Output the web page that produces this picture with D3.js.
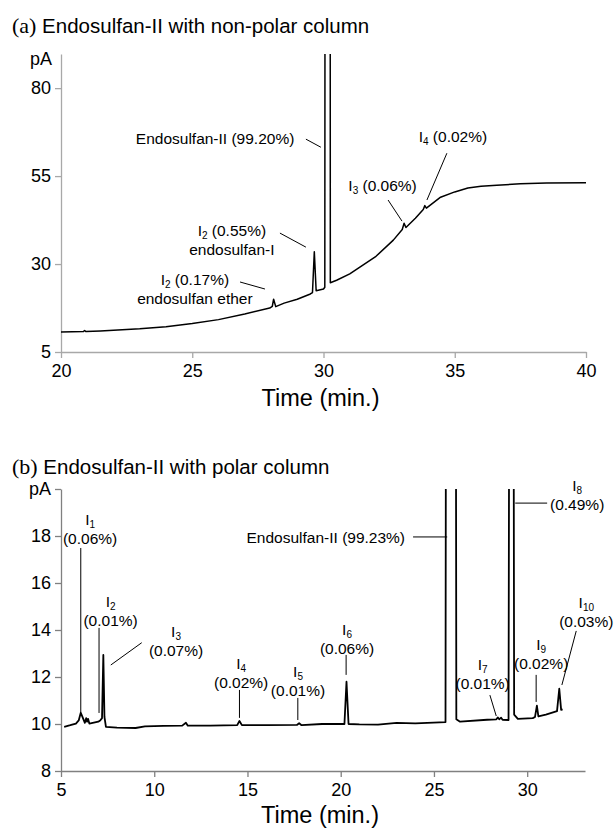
<!DOCTYPE html>
<html>
<head>
<meta charset="utf-8">
<script src="https://cdn.jsdelivr.net/npm/d3@7"></script>
<style>
body { margin: 0; background: #fff; }
text { font-family: "Liberation Sans", Arial, sans-serif; fill: #000; }
.trace { fill: none; stroke: #000; stroke-linejoin: round; }
.lead { stroke: #000; stroke-width: 1; }
</style>
</head>
<body>
<div id="chart"></div>
<script>
// ---- panel (a): non-polar column
var timeA = [20.0, 20.85, 20.9, 20.95, 21.5, 22, 23, 24, 25, 26, 27, 27.95, 28.05, 28.1, 28.18, 28.5, 29, 29.5, 29.58, 29.65, 29.72, 30.0, 30.05, 30.08, 30.24, 30.26, 30.5, 31, 31.4, 32, 32.66, 33.0, 33.07, 33.14, 33.5, 33.8, 33.86, 33.92, 34.46, 35, 35.5, 36, 36.6, 37.5, 38.5, 40];
var pA_A  = [10.7, 10.8, 11.1, 10.8, 11.0, 11.2, 11.6, 12.2, 13.1, 14.2, 15.8, 17.5, 18.0, 20.0, 17.9, 18.9, 20.0, 21.5, 21.9, 33.5, 22.4, 22.9, 23.4, 400, 400, 24.7, 25.4, 27.2, 29.2, 32.2, 36.8, 39.8, 41.6, 40.4, 43.0, 45.5, 46.6, 45.9, 49.0, 50.5, 51.6, 52.1, 52.4, 52.8, 53.0, 53.1];
var yTicksA = [5, 30, 55, 80];
var xTicksA = [20, 25, 30, 35, 40];

// ---- panel (b): polar column
var timeB = [5.17, 5.5, 5.8, 5.95, 6.06, 6.15, 6.28, 6.35, 6.4, 6.45, 6.52, 6.7, 7.0, 7.1, 7.2, 7.27, 7.33, 7.41, 8, 9, 9.5, 10.5, 11.5, 11.7, 11.8, 13, 14.45, 14.57, 14.7, 16, 17.65, 17.77, 17.9, 19, 20.2, 20.31, 20.42, 21, 22, 23, 24, 25.62, 25.7, 26.12, 26.2, 26.4, 27.85, 28.35, 28.42, 28.5, 28.6, 28.68, 29.0, 29.12, 29.2, 29.3, 29.5, 30.3, 30.42, 30.52, 30.6, 31.0, 31.6, 31.72, 31.82, 31.9];
var pA_B  = [9.88, 9.95, 10.02, 10.15, 10.48, 10.3, 10.05, 10.25, 10.1, 10.22, 10.02, 10.05, 10.1, 10.15, 10.25, 12.94, 10.3, 9.88, 9.85, 9.83, 9.9, 9.92, 9.93, 10.05, 9.93, 9.93, 9.95, 10.13, 9.95, 9.95, 9.96, 10.03, 9.95, 10.0, 10.0, 11.8, 10.0, 9.98, 9.97, 10.05, 10.03, 10.08, 60, 60, 10.2, 10.1, 10.18, 10.2, 10.28, 10.2, 10.27, 10.18, 10.17, 60, 60, 10.4, 10.22, 10.25, 10.3, 10.78, 10.32, 10.4, 10.55, 11.5, 10.6, 10.62];
var yTicksB = [8, 10, 12, 14, 16, 18, 20];
var xTicksB = [5, 10, 15, 20, 25, 30];

// annotations: [sub, text, second line, labelTime, labelValue, leader t1, v1, t2, v2]
var notesA = [
  [null, "Endosulfan-II (99.20%)", null, 25.87, 64.2, 29.33, 65.5, 29.90, 63.2],
  ["2", " (0.55%)", "endosulfan-I", 26.51, 38.1, 28.34, 38.8, 29.33, 34.8],
  ["2", " (0.17%)", "endosulfan ether", 25.10, 24.1, 26.82, 24.9, 27.77, 22.9],
  ["3", " (0.06%)", null, 32.25, 50.9, 32.46, 48.2, 32.99, 42.2],
  ["4", " (0.02%)", null, 34.93, 64.8, 34.70, 61.5, 33.94, 48.2]
];
// [sub, text, labelTime, labelValue, leader t1, v1, t2, v2]
var notesB = [
  ["1", "(0.06%)", 6.56, 17.64, 6.06, 17.49, 6.06, 10.51],
  ["2", "(0.01%)", 7.66, 14.19, 7.04, 14.09, 7.04, 10.47],
  ["3", "(0.07%)", 11.17, 12.91, 9.33, 13.46, 7.67, 12.51],
  ["4", "(0.02%)", 14.66, 11.55, 14.57, 11.45, 14.57, 10.26],
  ["5", "(0.01%)", 17.71, 11.21, 17.70, 11.11, 17.70, 10.17],
  ["6", "(0.06%)", 20.34, 13.0, 20.29, 12.94, 20.29, 12.09],
  ["7", "(0.01%)", 27.61, 11.51, 28.0, 11.23, 28.34, 10.34],
  ["8", "(0.49%)", 32.68, 19.09, 29.36, 19.40, 31.07, 19.40],
  ["9", "(0.02%)", 30.75, 12.36, 30.48, 12.09, 30.48, 10.94],
  ["10", "(0.03%)", 33.17, 14.11, 32.63, 13.96, 31.86, 11.66]
];
var mainB = ["Endosulfan-II (99.23%)", 23.45, 17.72, 23.88, 17.96, 25.71, 17.96];

var W = 615, H = 829;
var svg = d3.select("#chart").append("svg").attr("width", W).attr("height", H);

function title(y, letter, rest) {
  var t = svg.append("text").attr("x", 12).attr("y", y).style("font-size", "20.5px");
  t.append("tspan").style("font-family", "'Liberation Serif', 'Times New Roman', serif").style("font-size", "22px").text(letter);
  t.append("tspan").text(rest);
}

function panel(id, xd, yd, xr, yr, axisColor, times, vals, lw, yTicks, xTicks, yFmt, labelY) {
  var x = d3.scaleLinear().domain(xd).range(xr);
  var y = d3.scaleLinear().domain(yd).range(yr);
  svg.append("clipPath").attr("id", id).append("rect")
    .attr("x", xr[0]).attr("y", yr[1]).attr("width", xr[1] - xr[0] + 20).attr("height", yr[0] - yr[1]);

  var ya = svg.append("g").attr("transform", "translate(" + xr[0] + ",0)")
    .call(d3.axisLeft(y).tickValues(yTicks).tickSize(6).tickSizeOuter(0).tickPadding(4).tickFormat(yFmt));
  var xa = svg.append("g").attr("transform", "translate(0," + yr[0] + ")")
    .call(d3.axisBottom(x).tickValues(xTicks).tickSize(6).tickSizeOuter(0).tickPadding(6));
  [ya, xa].forEach(function(a) {
    a.select(".domain").attr("stroke", axisColor).attr("stroke-width", 1.3);
    a.selectAll(".tick line").attr("stroke", axisColor).attr("stroke-width", 1.3);
    a.selectAll(".tick text").style("font-family", "'Liberation Sans', Arial, sans-serif").style("font-size", "18px").attr("fill", "#000");
  });

  var line = d3.line().x(function(d) { return x(d[0]); }).y(function(d) { return y(d[1]); });
  svg.append("path").attr("class", "trace").attr("clip-path", "url(#" + id + ")")
    .attr("stroke-width", lw).attr("d", line(d3.zip(times, vals)));

  svg.append("text").attr("x", (xr[0] + xr[1]) / 2 - 3).attr("y", labelY)
    .attr("text-anchor", "middle").style("font-size", "23.5px").text("Time (min.)");
  return { x: x, y: y };
}

function lead(s, t1, v1, t2, v2) {
  svg.append("line").attr("class", "lead")
    .attr("x1", s.x(t1)).attr("y1", s.y(v1)).attr("x2", s.x(t2)).attr("y2", s.y(v2));
}

function iLabel(t, sub) {
  t.append("tspan").text("I");
  t.append("tspan").attr("dy", 3).style("font-size", "10px").text(sub);
}

// ---- (a)
title(33, "(a)", " Endosulfan-II with non-polar column");
var sA = panel("clipA", [20, 40], [5, 89.7], [61, 586], [352, 54], "#a8a8a8", timeA, pA_A, 1.5, yTicksA, xTicksA, d3.format("d"), 406);
svg.append("text").attr("x", 52).attr("y", 65).attr("text-anchor", "end").style("font-size", "18px").text("pA");

notesA.forEach(function(n) {
  var t = svg.append("text").attr("x", sA.x(n[3])).attr("y", sA.y(n[4]))
    .attr("text-anchor", "middle").style("font-size", "15.5px");
  if (n[0]) {
    iLabel(t, n[0]);
    t.append("tspan").attr("dy", -3).text(n[1]);
  } else {
    t.text(n[1]);
  }
  if (n[2]) {
    svg.append("text").attr("x", sA.x(n[3])).attr("y", sA.y(n[4]) + 19)
      .attr("text-anchor", "middle").style("font-size", "15.5px").text(n[2]);
  }
  lead(sA, n[5], n[6], n[7], n[8]);
});

// ---- (b)
title(474, "(b)", " Endosulfan-II with polar column");
var sB = panel("clipB", [5, 33.1], [8, 20], [61, 585], [771, 489], "#808080", timeB, pA_B, 1.8, yTicksB, xTicksB,
  function(d) { return d === 20 ? "pA" : d; }, 823);

notesB.forEach(function(n) {
  var px = sB.x(n[2]), py = sB.y(n[3]);
  var t = svg.append("text").attr("x", px).attr("y", py - 19).attr("text-anchor", "middle").style("font-size", "15.5px");
  iLabel(t, n[0]);
  svg.append("text").attr("x", px).attr("y", py).attr("text-anchor", "middle").style("font-size", "15.5px").text(n[1]);
  lead(sB, n[4], n[5], n[6], n[7]);
});
svg.append("text").attr("x", sB.x(mainB[1])).attr("y", sB.y(mainB[2]))
  .attr("text-anchor", "end").style("font-size", "15.5px").text(mainB[0]);
lead(sB, mainB[3], mainB[4], mainB[5], mainB[6]);
</script>
</body>
</html>
